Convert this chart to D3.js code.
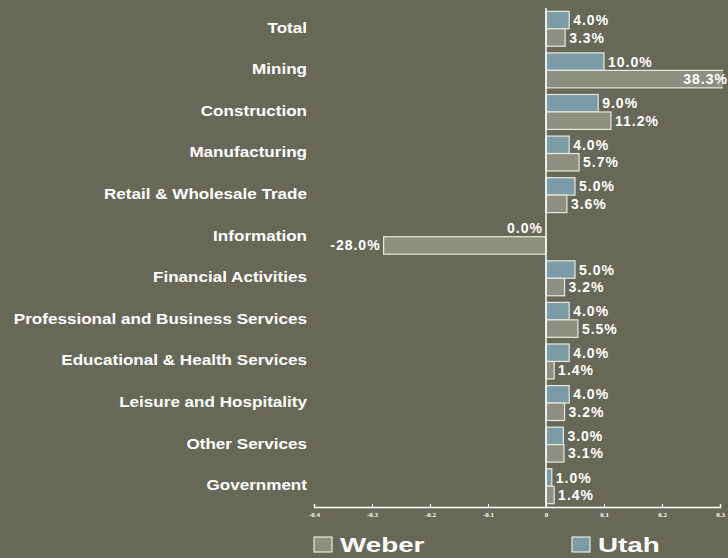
<!DOCTYPE html>
<html>
<head>
<meta charset="utf-8">
<script src="https://cdn.jsdelivr.net/npm/d3@7"></script>
<style>
  body { margin: 0; background: #686859; }
  svg { display: block; }
</style>
</head>
<body>
<div id="chart"></div>
<script>
// categories, top to bottom
const categories = [
  "Total", "Mining", "Construction", "Manufacturing", "Retail & Wholesale Trade",
  "Information", "Financial Activities", "Professional and Business Services",
  "Educational & Health Services", "Leisure and Hospitality", "Other Services", "Government"
];
const utah = [0.04, 0.10, 0.09, 0.04, 0.05, 0.0, 0.05, 0.04, 0.04, 0.04, 0.03, 0.01];
const weber = [0.033, 0.383, 0.112, 0.057, 0.036, -0.28, 0.032, 0.055, 0.014, 0.032, 0.031, 0.014];
const xTicks = [-0.4, -0.3, -0.2, -0.1, 0, 0.1, 0.2, 0.3];

const width = 728, height = 558;
const margin = { top: 8, right: 8, bottom: 51, left: 314 };

const svg = d3.select("#chart").append("svg")
  .attr("width", width)
  .attr("height", height);

svg.append("rect").attr("width", width).attr("height", height).attr("fill", "#686859");

const x = d3.scaleLinear().domain([-0.4, 0.3]).range([margin.left, width - margin.right]);
const y = d3.scaleBand().domain(categories).range([margin.top, height - margin.bottom]).paddingInner(0.16).paddingOuter(0.08);
const sub = d3.scaleBand().domain(["Utah", "Weber"]).range([0, y.bandwidth()]);

const colors = { Utah: "#7b9ba6", Weber: "#8f8f81" };

// clip bars so Mining runs off the edge
svg.append("clipPath").attr("id", "clip")
  .append("rect").attr("x", margin.left).attr("y", 0).attr("width", 723 - margin.left).attr("height", height);

const rows = categories.map((c, i) => [
  { cat: c, series: "Utah", value: utah[i] },
  { cat: c, series: "Weber", value: weber[i] }
]).flat();

svg.append("g").attr("clip-path", "url(#clip)")
  .selectAll("rect")
  .data(rows.filter(d => d.value !== 0))
  .join("rect")
  .attr("x", d => x(Math.min(0, d.value)))
  .attr("y", d => y(d.cat) + sub(d.series))
  .attr("width", d => Math.abs(x(d.value) - x(0)))
  .attr("height", sub.bandwidth())
  .attr("fill", d => colors[d.series])
  .attr("stroke", "#e8e8e0")
  .attr("stroke-width", 1.2);

// value labels
svg.append("g")
  .attr("font-family", "Liberation Sans, Arial, sans-serif")
  .attr("font-weight", "bold")
  .attr("font-size", 14)
  .attr("letter-spacing", 1)
  .attr("fill", "#ffffff")
  .selectAll("text")
  .data(rows)
  .join("text")
  .attr("x", d => {
    if (d.value <= 0) return x(d.value) - 3;
    if (x(d.value) > 680) return width;
    return x(d.value) + 4;
  })
  .attr("y", d => y(d.cat) + sub(d.series) + sub.bandwidth() / 2)
  .attr("dy", "0.36em")
  .attr("text-anchor", d => (d.value <= 0 || x(d.value) > 680) ? "end" : "start")
  .text(d => d3.format(".1%")(d.value).replace("−", "-"));

// category labels (glyphs look stretched sideways in the original)
svg.append("g")
  .attr("font-family", "Liberation Sans, Arial, sans-serif")
  .attr("font-weight", "bold")
  .attr("font-size", 14)
  .attr("fill", "#ffffff")
  .attr("text-anchor", "end")
  .selectAll("text")
  .data(categories)
  .join("text")
  .attr("transform", d => `translate(307,${y(d) + y.bandwidth() / 2 - 1}) scale(1.22,1)`)
  .attr("dy", "0.35em")
  .text(d => d);

// zero line
svg.append("line")
  .attr("x1", x(0)).attr("x2", x(0))
  .attr("y1", margin.top).attr("y2", height - margin.bottom)
  .attr("stroke", "#ffffff").attr("stroke-width", 1.5);

// x axis with ticks pointing up
const axis = svg.append("g")
  .attr("transform", `translate(0,${height - margin.bottom})`)
  .call(d3.axisTop(x).tickValues(xTicks).tickSize(3).tickFormat(d => d === 0 ? "0" : d3.format(".1f")(d).replace("−", "-")));
axis.select(".domain").attr("stroke", "#ffffff").attr("stroke-width", 1.5);
axis.selectAll(".tick line").attr("stroke", "#ffffff");
axis.selectAll(".tick text")
  .attr("y", 10)
  .attr("dy", 0)
  .attr("fill", "#ffffff")
  .attr("font-family", "Liberation Serif, Times New Roman, serif")
  .attr("font-weight", "bold")
  .attr("font-size", 7);

// legend
const legend = [
  { name: "Weber", x: 314 },
  { name: "Utah", x: 572 }
];
const lg = svg.append("g").selectAll("g").data(legend).join("g")
  .attr("transform", d => `translate(${d.x},537)`);
lg.append("rect")
  .attr("width", 18).attr("height", 15)
  .attr("fill", d => colors[d.name])
  .attr("stroke", "#e8e8e0").attr("stroke-width", 1.2);
lg.append("text")
  .attr("transform", "translate(26,15) scale(1.39,1)")
  .attr("fill", "#ffffff")
  .attr("font-family", "Liberation Sans, Arial, sans-serif")
  .attr("font-weight", "bold")
  .attr("font-size", 20)
  .text(d => d.name);
</script>
</body>
</html>
